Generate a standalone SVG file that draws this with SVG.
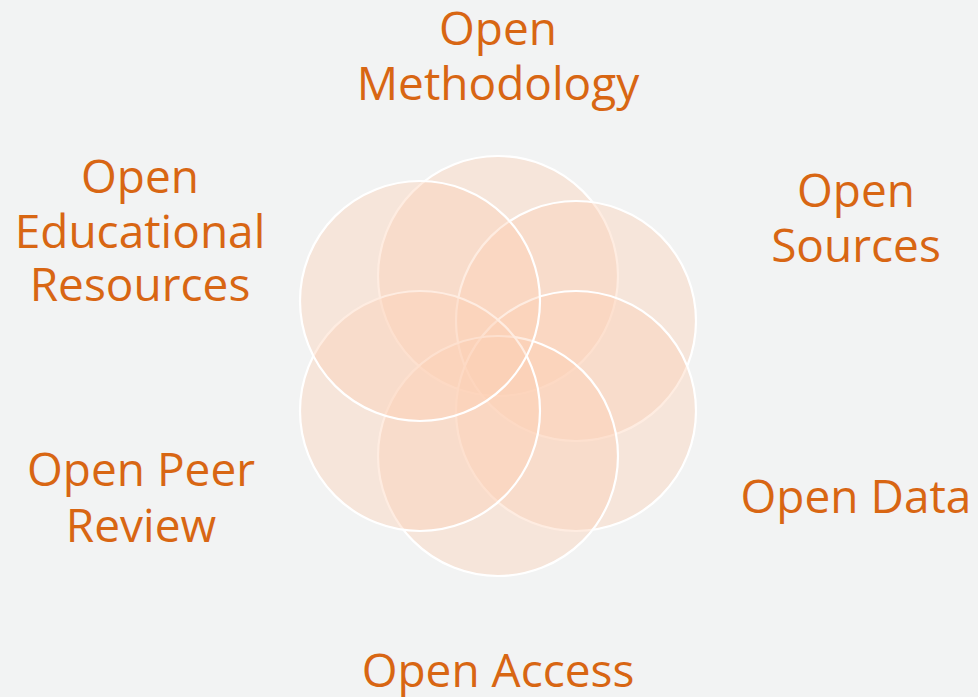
<svg xmlns="http://www.w3.org/2000/svg" width="978" height="697" viewBox="0 0 978 697">
  <style>
    .c { fill: rgba(252,208,181,0.4); stroke: #ffffff; stroke-width: 2.2; }
    .t { font-family: "Open Sans", "Noto Sans", sans-serif; font-size: 46px; fill: #d86613; text-anchor: middle; }
  </style>
  <rect x="0" y="0" width="978" height="697" fill="#f2f3f3"/>
  <g id="circles">
    <circle id="c-top" class="c" cx="498" cy="276" r="120"/>
    <circle id="c-upper-right" class="c" cx="576" cy="321" r="120"/>
    <circle id="c-lower-right" class="c" cx="576" cy="411" r="120"/>
    <circle id="c-bottom" class="c" cx="498" cy="456" r="120"/>
    <circle id="c-lower-left" class="c" cx="420" cy="411" r="120"/>
    <circle id="c-upper-left" class="c" cx="420" cy="301" r="120"/>
  </g>
  <g id="label-methodology">
    <text class="t" x="498" y="45">Open</text>
    <text class="t" x="498" y="100">Methodology</text>
  </g>
  <g id="label-sources">
    <text class="t" x="856" y="207">Open</text>
    <text class="t" x="856" y="262">Sources</text>
  </g>
  <g id="label-data">
    <text class="t" x="856" y="513">Open Data</text>
  </g>
  <g id="label-access">
    <text class="t" x="498" y="687">Open Access</text>
  </g>
  <g id="label-peer-review">
    <text class="t" x="141" y="486">Open Peer</text>
    <text class="t" x="141" y="542">Review</text>
  </g>
  <g id="label-oer">
    <text class="t" x="140" y="193">Open</text>
    <text class="t" x="140" y="248">Educational</text>
    <text class="t" x="140" y="301">Resources</text>
  </g>
</svg>
